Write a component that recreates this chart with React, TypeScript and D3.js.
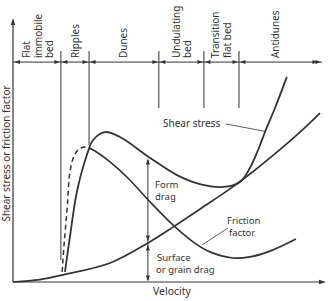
import React from "react";
import * as d3 from "d3";

const W = 328;
const H = 301;

// Abstract schematic units: velocity 0..100, stress 0..100
const shearStress: [number, number][] = [
  [16.6, 3.8], [18.5, 19.7], [20.4, 34.1], [23.6, 48.1], [25.6, 53.8],
  [29.4, 56.8], [34.2, 54.9], [43.8, 47.0], [52.4, 40.5], [59.7, 37.1],
  [67.1, 36.0], [72.5, 37.9], [75.7, 43.2], [78.3, 50.0], [80.5, 56.8],
  [83.7, 65.9], [87.5, 77.7],
];
const frictionDashed: [number, number][] = [
  [15.7, 3.8], [16.3, 14.0], [17.3, 28.0], [18.2, 41.7], [19.5, 47.7],
  [21.1, 50.4], [23.0, 51.1], [24.3, 50.8],
];
const frictionFactor: [number, number][] = [
  [24.3, 50.8], [26.2, 49.6], [31.0, 45.5], [36.7, 39.4], [43.8, 30.3],
  [51.1, 21.6], [57.5, 15.2], [62.9, 11.4], [70.3, 9.1], [75.7, 9.5],
  [82.1, 11.7], [90.4, 16.3],
];
const grainDrag: [number, number][] = [
  [0, 0], [8.6, 0.9], [16.0, 2.7], [31.0, 7.2], [43.1, 14.8], [51.1, 20.8],
  [60.7, 28.4], [68.4, 34.5], [75.7, 40.9], [82.1, 47.0], [91.7, 56.8], [98.1, 64.0],
];

const regimeNames: string[][] = [
  ["Flat", "immobile", "bed"],
  ["Ripples"],
  ["Dunes"],
  ["Undulating", "bed"],
  ["Transition", "flat bed"],
  ["Antidunes"],
];
const regimeLabelCenters = [8.0, 20.0, 35.3, 54.0, 66.6, 83.9];
const regimeBounds = [0, 15.3, 24.3, 46.6, 61.0, 72.2, 98.7];
const dividerBottoms = [8.3, 51.9, 65.9, 65.9, 65.9];
const dividerTop = 87.5;
const regimeArrowY = 83.3;
const formDragX = 43.1;

const axisLabelX = "Velocity";
const axisLabelY = "Shear stress or friction factor";

const INK = "#333";
const FONT = "'Noto Sans', 'DejaVu Sans', sans-serif";

function arrowHead(x: number, y: number, dir: "up" | "down" | "left" | "right", len = 6, hw = 2.2) {
  let pts: [number, number][];
  if (dir === "up") pts = [[x, y], [x - hw, y + len], [x + hw, y + len]];
  else if (dir === "down") pts = [[x, y], [x - hw, y - len], [x + hw, y - len]];
  else if (dir === "left") pts = [[x, y], [x + len, y - hw], [x + len, y + hw]];
  else pts = [[x, y], [x - len, y - hw], [x - len, y + hw]];
  return pts.map((p) => p.join(",")).join(" ");
}

export default function App() {
  const x = d3.scaleLinear().domain([0, 100]).range([13, 326]);
  const y = d3.scaleLinear().domain([0, 100]).range([282, 18]);
  const line = d3
    .line<[number, number]>()
    .x((d) => x(d[0]))
    .y((d) => y(d[1]))
    .curve(d3.curveCatmullRom.alpha(0.5));

  const arrowYpx = y(regimeArrowY);
  const fx = x(formDragX);
  const shearAtForm = y(47.0);
  const grainAtForm = y(14.8);

  return (
    <svg width={W} height={H} style={{ display: "block", position: "absolute", left: 0, top: 0, background: "#fff" }}>
      {/* axes */}
      <line x1={x(0)} y1={y(0)} x2={x(0)} y2={y(100) + 3} stroke={INK} strokeWidth={1.2} />
      <polygon points={arrowHead(x(0), y(100), "up", 7, 2.2)} fill={INK} />
      <line x1={x(0)} y1={y(0)} x2={x(100) - 3} y2={y(0)} stroke={INK} strokeWidth={1.2} />
      <polygon points={arrowHead(x(100), y(0), "right", 7, 2.2)} fill={INK} />

      {/* regime arrows */}
      <line x1={x(0)} y1={arrowYpx} x2={x(regimeBounds[6])} y2={arrowYpx} stroke={INK} strokeWidth={1} />
      {regimeBounds.slice(0, -1).map((b, i) => {
        const a = x(b) + (i === 0 ? 1.5 : 1);
        const e = x(regimeBounds[i + 1]) - 1;
        return (
          <g key={"ra" + i}>
            <polygon points={arrowHead(a, arrowYpx, "left", 5.5, 2)} fill={INK} />
            <polygon points={arrowHead(e, arrowYpx, "right", 5.5, 2)} fill={INK} />
          </g>
        );
      })}
      <polygon points={arrowHead(x(regimeBounds[6]) - 4, arrowYpx, "right", 5.5, 2)} fill={INK} />

      {/* dividers */}
      {regimeBounds.slice(1, -1).map((b, i) => (
        <line key={"dv" + i} x1={x(b)} y1={y(dividerTop)} x2={x(b)} y2={y(dividerBottoms[i])} stroke={INK} strokeWidth={1} />
      ))}

      {/* regime labels */}
      {regimeNames.map((lines, i) => {
        const cx = x(regimeLabelCenters[i]);
        const n = lines.length;
        return (
          <text key={"rl" + i} transform={`translate(${cx},${y(regimeArrowY) - 4}) rotate(-90)`} fontFamily={FONT} fontSize={10} fill={INK}>
            {lines.map((t, j) => (
              <tspan key={j} x={0} y={(j - (n - 1) / 2) * 11.5 + 3.5}>
                {t}
              </tspan>
            ))}
          </text>
        );
      })}

      {/* curves */}
      <path d={line(grainDrag) || ""} fill="none" stroke={INK} strokeWidth={1.7} />
      <path d={line(frictionFactor) || ""} fill="none" stroke={INK} strokeWidth={1.7} />
      <path d={line(frictionDashed) || ""} fill="none" stroke={INK} strokeWidth={1.5} strokeDasharray="5,3.5" />
      <path d={line(shearStress) || ""} fill="none" stroke={INK} strokeWidth={1.8} />

      {/* form drag / grain drag arrows */}
      <line x1={fx} y1={shearAtForm + 2} x2={fx} y2={y(0) - 2} stroke={INK} strokeWidth={1} />
      <polygon points={arrowHead(fx, shearAtForm + 0.5, "up", 6, 2)} fill={INK} />
      <polygon points={arrowHead(fx, grainAtForm - 1.5, "down", 6, 2)} fill={INK} />
      <polygon points={arrowHead(fx, grainAtForm + 1.5, "up", 6, 2)} fill={INK} />
      <polygon points={arrowHead(fx, y(0) - 0.5, "down", 6, 2)} fill={INK} />

      {/* annotations */}
      <g fontFamily={FONT} fontSize={9.5} fill={INK}>
        <text x={163} y={127} fontSize={10}>Shear stress</text>
        <text x={155} y={188}>Form</text>
        <text x={155} y={200}>drag</text>
        <text x={157} y={261}>Surface</text>
        <text x={156} y={273}>or grain drag</text>
        <text x={227} y={224}>Friction</text>
        <text x={229} y={236}>factor</text>
        <text x={153} y={295} fontSize={10.5}>{axisLabelX}</text>
        <text transform={`translate(10,153.5) rotate(-90)`} textAnchor="middle" fontSize={10}>
          {axisLabelY}
        </text>
      </g>
      <line x1={226} y1={124} x2={266} y2={131.5} stroke={INK} strokeWidth={0.8} />
      <line x1={228} y1={228} x2={202} y2={245} stroke={INK} strokeWidth={0.8} />
    </svg>
  );
}
